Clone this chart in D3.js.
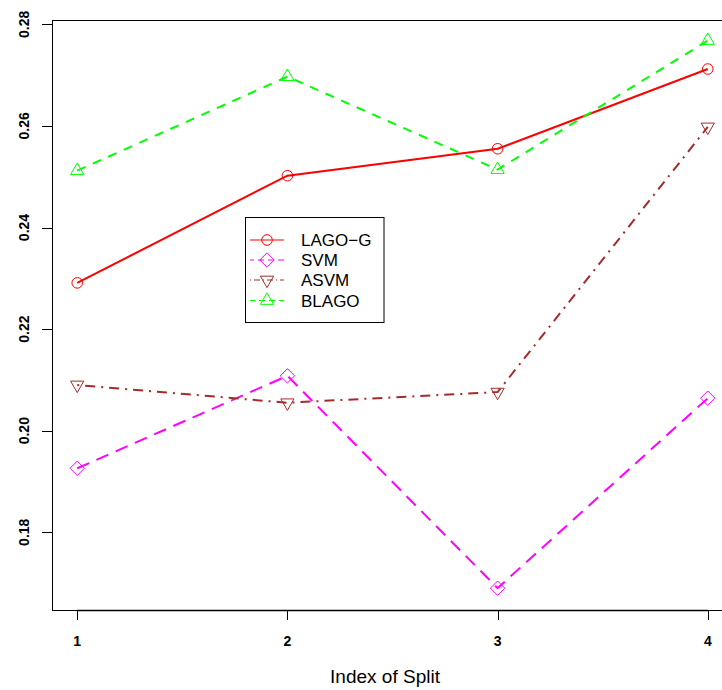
<!DOCTYPE html>
<html><head><meta charset="utf-8">
<script src="https://cdn.jsdelivr.net/npm/d3@7/dist/d3.min.js"></script>
<style>body{margin:0;background:#fff}svg{display:block}</style>
</head><body>
<svg id="c" width="722" height="690"></svg>
<script>
const splits = [1, 2, 3, 4];
const lagoG = [0.2291, 0.2502, 0.2555, 0.2712];
const svm   = [0.1926, 0.2108, 0.1690, 0.2064];
const asvm  = [0.2090, 0.2055, 0.2076, 0.2598];
const blago = [0.2512, 0.2697, 0.2514, 0.2768];
const yTicks = [0.18, 0.20, 0.22, 0.24, 0.26, 0.28];
const yTickLabels = ["0.18", "0.20", "0.22", "0.24", "0.26", "0.28"];
const seriesNames = ["LAGO\u2212G", "SVM", "ASVM", "BLAGO"];

const svg = d3.select("#c");
const L = 52, R = 733, T = 20, B = 610;
const x = d3.scaleLinear().domain([0.88, 4.12]).range([L, R]);
const y = d3.scaleLinear().domain([0.16470, 0.28085]).range([B, T]);

const styles = [
  {color: "#FF0000", dash: null, sym: "circle"},
  {color: "#FF00FF", dash: "13,8", sym: "diamond"},
  {color: "#A52A2A", dash: "2,6,10,6", sym: "tridown"},
  {color: "#00FF00", dash: "9,8", sym: "triup"}
];
const data = [lagoG, svm, asvm, blago];

function symbol(g, type, cx, cy, color) {
  if (type === "circle") {
    g.append("circle").attr("cx", cx).attr("cy", cy).attr("r", 5.3)
      .attr("fill", "none").attr("stroke", color).attr("stroke-width", 1);
  } else if (type === "diamond") {
    const s = 7.2;
    g.append("path").attr("d", `M${cx},${cy-s}L${cx+s},${cy}L${cx},${cy+s}L${cx-s},${cy}Z`)
      .attr("fill", "none").attr("stroke", color).attr("stroke-width", 1);
  } else {
    const h = 11.5, w = 13.2;
    const dir = type === "triup" ? 1 : -1;
    const top = cy - dir * h * 2 / 3, base = cy + dir * h / 3;
    g.append("path").attr("d", `M${cx},${top}L${cx+w/2},${base}L${cx-w/2},${base}Z`)
      .attr("fill", "none").attr("stroke", color).attr("stroke-width", 1);
  }
}

const clip = svg.append("defs").append("clipPath").attr("id", "pc");
clip.append("rect").attr("x", L).attr("y", T).attr("width", R - L).attr("height", B - T);

const plot = svg.append("g");
const line = d3.line().x((d, i) => x(splits[i])).y(d => y(d));
data.forEach((vals, k) => {
  const st = styles[k];
  plot.append("path").datum(vals).attr("d", line)
    .attr("fill", "none").attr("stroke", st.color).attr("stroke-width", 2)
    .attr("stroke-dasharray", st.dash);
  vals.forEach((v, i) => symbol(plot, st.sym, x(splits[i]), y(v), st.color));
});

// box
svg.append("rect").attr("x", L + 0.5).attr("y", T + 0.5).attr("width", R - L).attr("height", B - T)
  .attr("fill", "none").attr("stroke", "#000").attr("stroke-width", 1);

// y axis
const ya = svg.append("g");
ya.append("line").attr("x1", L + 0.5).attr("x2", L + 0.5).attr("y1", y(0.18)).attr("y2", y(0.28))
  .attr("stroke", "#000");
yTicks.forEach((t, i) => {
  ya.append("line").attr("x1", L - 10).attr("x2", L).attr("y1", Math.round(y(t)) + 0.5).attr("y2", Math.round(y(t)) + 0.5)
    .attr("stroke", "#000");
  ya.append("text").attr("transform", `translate(29,${y(t)}) rotate(-90)`)
    .attr("text-anchor", "middle").attr("font-family", "Liberation Sans, Arial, sans-serif")
    .attr("font-size", 14).attr("font-weight", "bold").text(yTickLabels[i]);
});

// x axis
const xa = svg.append("g");
xa.append("line").attr("x1", x(1)).attr("x2", x(4)).attr("y1", B + 0.5).attr("y2", B + 0.5).attr("stroke", "#000")
  .attr("stroke-width", 1.5);
splits.forEach(s => {
  xa.append("line").attr("x1", Math.round(x(s)) + 0.5).attr("x2", Math.round(x(s)) + 0.5).attr("y1", B).attr("y2", B + 10)
    .attr("stroke", "#000");
  xa.append("text").attr("x", x(s)).attr("y", 646).attr("text-anchor", "middle")
    .attr("font-family", "Liberation Sans, Arial, sans-serif").attr("font-size", 14).attr("font-weight", "bold")
    .text(String(s));
});
svg.append("text").attr("x", 385).attr("y", 683).attr("text-anchor", "middle")
  .attr("font-family", "Liberation Sans, Arial, sans-serif").attr("font-size", 19).text("Index of Split");

// legend
const lg = svg.append("g");
lg.append("rect").attr("x", 245.5).attr("y", 217.5).attr("width", 138.5).attr("height", 105)
  .attr("fill", "#fff").attr("stroke", "#000").attr("stroke-width", 1);
const ly = [240, 260, 280, 300.5];
seriesNames.forEach((n, k) => {
  const st = styles[k];
  lg.append("line").attr("x1", 250).attr("x2", 284).attr("y1", ly[k]).attr("y2", ly[k])
    .attr("stroke", st.color).attr("stroke-width", 1)
    .attr("stroke-dasharray", st.dash ? (k === 2 ? "1,3,6,3" : "6,4") : null)
    .attr("stroke-dashoffset", k === 1 ? 2 : (k === 3 ? 1 : 0));
  symbol(lg, st.sym, 267, ly[k], st.color);
  lg.append("text").attr("x", 301).attr("y", ly[k] + 6).attr("font-family", "Liberation Sans, Arial, sans-serif")
    .attr("font-size", 17).text(n);
});
</script>
</body></html>
